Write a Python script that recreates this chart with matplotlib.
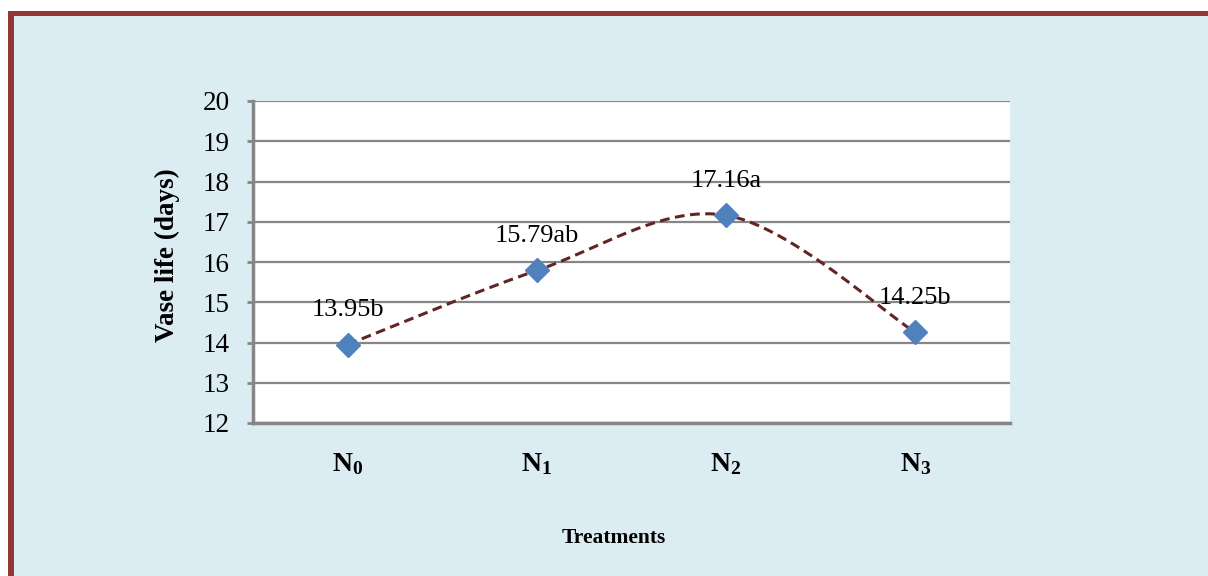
import numpy as np
import matplotlib
matplotlib.use("Agg")
import matplotlib.pyplot as plt
from matplotlib.patches import Rectangle

categories = [r"$\mathbf{N_0}$", r"$\mathbf{N_1}$", r"$\mathbf{N_2}$", r"$\mathbf{N_3}$"]
values = [13.95, 15.79, 17.16, 14.25]
value_labels = ["13.95b", "15.79ab", "17.16a", "14.25b"]
y_ticks = [12, 13, 14, 15, 16, 17, 18, 19, 20]

plt.rcParams["font.family"] = ["Liberation Serif", "DejaVu Serif"]
plt.rcParams["mathtext.fontset"] = "custom"
plt.rcParams["mathtext.rm"] = "Liberation Serif"
plt.rcParams["mathtext.bf"] = "Liberation Serif:bold"

W, H = 1208, 576
fig = plt.figure(figsize=(W / 100, H / 100), dpi=100)
fig.patch.set_facecolor("white")

border = "#943634"
bg = "#DBECF2"
fig.patches.append(Rectangle((14 / W, 0), 1 - 14 / W, (H - 16) / H, transform=fig.transFigure,
                             facecolor=bg, edgecolor="none", zorder=-2))
fig.patches.append(Rectangle((8 / W, 0), 6 / W, (H - 11) / H, transform=fig.transFigure,
                             facecolor=border, edgecolor="none", zorder=-1))
fig.patches.append(Rectangle((8 / W, (H - 16) / H), 1 - 8 / W, 5 / H, transform=fig.transFigure,
                             facecolor=border, edgecolor="none", zorder=-1))

left, right, top, bottom = 253, 1010, 101, 423
ax = fig.add_axes([left / W, (H - bottom) / H, (right - left) / W, (bottom - top) / H])
ax.set_zorder(1)
ax.set_facecolor("white")

x = np.arange(len(values))
ax.set_xlim(-0.5, len(values) - 0.5)
ax.set_ylim(12, 20)
ax.set_yticks(y_ticks)
ax.set_yticklabels([str(t) for t in y_ticks], fontsize=19.5)
ax.set_xticks(x)
ax.set_xticklabels(categories, fontsize=20)
ax.tick_params(axis="x", length=0, pad=20)
ax.tick_params(axis="y", length=4.5, width=2, color="#868686", pad=12, direction="out")

for s in ["top", "right"]:
    ax.spines[s].set_visible(False)
for s in ["left", "bottom"]:
    ax.spines[s].set_color("#868686")
    ax.spines[s].set_linewidth(2.5)

ax.grid(axis="y", color="#868686", linewidth=1.6)
ax.set_axisbelow(True)

# Excel-style smoothed line (Catmull-Rom -> cubic Bezier)
pts = np.column_stack([x.astype(float), np.array(values, dtype=float)])
curve = []
n = len(pts)
t = np.linspace(0, 1, 60)
for i in range(n - 1):
    p0 = pts[max(i - 1, 0)]
    p1 = pts[i]
    p2 = pts[i + 1]
    p3 = pts[min(i + 2, n - 1)]
    c1 = p1 + (p2 - p0) / 6
    c2 = p2 - (p3 - p1) / 6
    seg = ((1 - t) ** 3)[:, None] * p1 + (3 * (1 - t) ** 2 * t)[:, None] * c1 \
        + (3 * (1 - t) * t ** 2)[:, None] * c2 + (t ** 3)[:, None] * p2
    curve.append(seg if i == 0 else seg[1:])
curve = np.vstack(curve)
ax.plot(curve[:, 0], curve[:, 1], color="#632523", linewidth=2.2, linestyle=(0, (3.2, 1.8)), zorder=3)
ax.plot(x, values, linestyle="none", marker="D", markersize=12.5, color="#4F81BD", zorder=4)

for xi, v, lab in zip(x, values, value_labels):
    ax.annotate(lab, (xi, v), xytext=(0, 24.5), textcoords="offset points",
                ha="center", va="center", fontsize=19)

fig.text(167 / W, 1 - 255 / H, "Vase life (days)", rotation=90, ha="center", va="center",
         fontsize=19.5, fontweight="bold")
fig.text(614 / W, 1 - 538 / H, "Treatments", ha="center", va="center",
         fontsize=15.5, fontweight="bold")

fig.savefig("out.png", dpi=100)
